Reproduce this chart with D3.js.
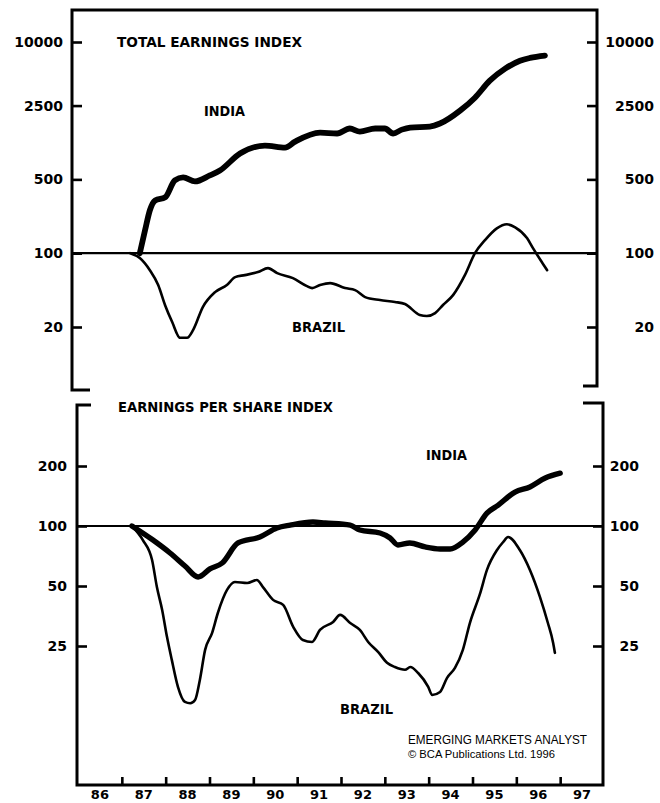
<!DOCTYPE html>
<html>
<head>
<meta charset="utf-8">
<script src="https://cdn.jsdelivr.net/npm/d3@7"></script>
<style>
  body { margin: 0; background: #fff; }
  svg { display: block; background: #fff; }
  .tick text { font-family: "DejaVu Sans", sans-serif; font-weight: bold; font-size: 14px; fill: #000; }
  .tick line { stroke: #000; stroke-width: 2.6; }
  .lbl { font-family: "DejaVu Sans", sans-serif; font-weight: bold; fill: #000; }
  .credit { font-family: "Liberation Sans", Arial, sans-serif; fill: #000; }
</style>
</head>
<body>
<svg id="chart" width="660" height="803"></svg>
<script>
// values: [year, index (start = 100)]
var totalIndia = [
  [1987.55, 100], [1987.67, 165], [1987.78, 255], [1987.90, 316], [1988.13, 338],
  [1988.35, 489], [1988.54, 522], [1988.81, 478], [1989.15, 545], [1989.38, 607],
  [1989.84, 879], [1990.41, 1046], [1990.87, 1001], [1991.10, 1140], [1991.67, 1387],
  [1992.06, 1360], [1992.35, 1516], [1992.58, 1417], [1992.93, 1516], [1993.15, 1516],
  [1993.34, 1360], [1993.54, 1480], [1993.73, 1549], [1994.18, 1583], [1994.41, 1690],
  [1994.87, 2240], [1995.21, 2970], [1995.55, 4300], [1995.90, 5590], [1996.24, 6650],
  [1996.47, 7070], [1996.81, 7440]
];
var totalBrazil = [
  [1987.33, 100], [1987.55, 90], [1987.78, 69], [1987.97, 50], [1988.13, 32],
  [1988.29, 22.3], [1988.47, 15.8], [1988.63, 15.8], [1988.77, 18.8], [1988.99, 30.9],
  [1989.27, 42.8], [1989.54, 50], [1989.73, 59.4], [1989.95, 62], [1990.25, 66.2],
  [1990.48, 72.2], [1990.69, 64.7], [1991.05, 58.1], [1991.37, 48.8], [1991.49, 46.7],
  [1991.67, 49.9], [1991.90, 52.1], [1992.24, 46.7], [1992.47, 44.7], [1992.70, 38.4],
  [1993.04, 36], [1993.38, 34.5], [1993.61, 33], [1993.95, 26], [1994.11, 25.4],
  [1994.30, 27.1], [1994.48, 32.3], [1994.71, 40.1], [1994.98, 62], [1995.21, 100],
  [1995.44, 133], [1995.71, 172], [1995.94, 188], [1996.13, 176], [1996.40, 139],
  [1996.54, 111], [1996.77, 78.7], [1996.86, 69]
];
var epsIndia = [
  [1987.23, 100], [1987.71, 85], [1988.10, 73.2], [1988.44, 63], [1988.74, 55.5],
  [1989.01, 60.9], [1989.29, 65.2], [1989.65, 82.2], [1990.15, 88.1], [1990.54, 97.7],
  [1990.84, 101], [1991.36, 104.7], [1991.64, 103.5], [1992.21, 101], [1992.43, 95.5],
  [1992.89, 92.2], [1993.12, 87.1], [1993.30, 80.3], [1993.57, 82.2], [1993.92, 78.5],
  [1994.26, 76.7], [1994.49, 76.7], [1994.78, 83.1], [1995.06, 95.5], [1995.33, 116],
  [1995.58, 127], [1995.97, 148], [1996.31, 157], [1996.66, 174], [1997.00, 184]
];
var epsBrazil = [
  [1987.23, 100], [1987.48, 85], [1987.69, 67.5], [1987.80, 49.4], [1987.92, 37.9],
  [1988.03, 27.8], [1988.14, 21.3], [1988.28, 15.6], [1988.44, 13.1], [1988.56, 12.9],
  [1988.67, 13.4], [1988.78, 16.9], [1988.90, 23.9], [1989.06, 29.1], [1989.19, 36.6],
  [1989.40, 47.8], [1989.58, 52.4], [1989.86, 51.8], [1990.08, 53.6], [1990.22, 49.4],
  [1990.45, 42.6], [1990.68, 40.2], [1990.91, 31.2], [1991.13, 26.8], [1991.34, 26.2],
  [1991.52, 30.1], [1991.82, 33.0], [1991.98, 35.8], [1992.21, 32.6], [1992.43, 30.1],
  [1992.62, 26.2], [1992.85, 23.3], [1993.05, 20.6], [1993.23, 19.6], [1993.46, 19.0],
  [1993.58, 19.6], [1993.76, 18.3], [1993.99, 15.6], [1994.08, 14.2], [1994.26, 14.7],
  [1994.42, 17.3], [1994.60, 19.4], [1994.78, 23.9], [1994.94, 32.6], [1995.17, 45.6],
  [1995.33, 60.2], [1995.56, 75.8], [1995.70, 83.1], [1995.81, 88.1], [1996.08, 75.8],
  [1996.31, 60.2], [1996.54, 44.0], [1996.72, 32.6], [1996.84, 25.9], [1996.88, 23.1]
];

var totalTicks = [10000, 2500, 500, 100, 20];
var epsTicks = [200, 100, 50, 25];
var yearTicks = [1987, 1988, 1989, 1990, 1991, 1992, 1993, 1994, 1995, 1996, 1997];
var yearLabels = ['86', '87', '88', '89', '90', '91', '92', '93', '94', '95', '96', '97'];

(function() {
  'use strict';

  var svg = d3.select('#chart');

  // the two panels sit a few pixels apart horizontally on the scan
  var xTot = d3.scaleLinear().domain([1986, 1998]).range([72, 597]);
  var yTot = d3.scaleLog().domain([10000, 20]).range([42, 327]);
  var xEps = d3.scaleLinear().domain([1986, 1998]).range([78, 604]);
  var yEps = d3.scaleLog().domain([200, 25]).range([466, 646]);

  function frame(d) {
    svg.append('path')
      .attr('d', d)
      .attr('fill', 'none')
      .attr('stroke', '#000')
      .attr('stroke-width', 3)
      .attr('stroke-linejoin', 'miter');
  }

  function yAxes(y, ticks, xl, xr, padL, labelR) {
    var gl = svg.append('g')
      .attr('transform', 'translate(' + xl + ',0)')
      .call(d3.axisLeft(y).tickValues(ticks).tickFormat(d3.format('d')).tickSize(-10).tickPadding(padL));
    gl.select('.domain').remove();

    var gr = svg.append('g')
      .attr('transform', 'translate(' + xr + ',0)')
      .call(d3.axisRight(y).tickValues(ticks).tickFormat(d3.format('d')).tickSize(-10));
    gr.select('.domain').remove();
    gr.selectAll('.tick text').attr('x', labelR - xr).attr('text-anchor', 'end');
  }

  function series(data, x, y, width) {
    var line = d3.line()
      .x(function(d) { return x(d[0]); })
      .y(function(d) { return y(d[1]); })
      .curve(d3.curveMonotoneX);
    svg.append('path')
      .datum(data)
      .attr('d', line)
      .attr('fill', 'none')
      .attr('stroke', '#000')
      .attr('stroke-width', width)
      .attr('stroke-linejoin', 'round')
      .attr('stroke-linecap', 'round');
  }

  function baseLine(x, y, x1, x2) {
    svg.append('line')
      .attr('x1', x1).attr('x2', x2)
      .attr('y1', y(100)).attr('y2', y(100))
      .attr('stroke', '#000')
      .attr('stroke-width', 2.2);
  }

  function label(txt, x, y, size, len, cls) {
    svg.append('text')
      .attr('class', cls || 'lbl')
      .attr('x', x).attr('y', y)
      .attr('font-size', size)
      .attr('textLength', len)
      .attr('lengthAdjust', 'spacingAndGlyphs')
      .text(txt);
  }

  // ---- top panel: total earnings
  frame('M90,390H72V10H597V386H583');
  yAxes(yTot, totalTicks, 72, 597, 9, 654);
  baseLine(xTot, yTot, 72, 597);
  series(totalBrazil, xTot, yTot, 2.6);
  series(totalIndia, xTot, yTot, 5.8);

  label('TOTAL EARNINGS INDEX', 117, 46.5, 13.7, 185);
  label('INDIA', 204, 116, 14.5, 41);
  label('BRAZIL', 292, 332, 14.5, 53);

  // ---- bottom panel: earnings per share
  frame('M91,405H77V785H603V403H583');
  yAxes(yEps, epsTicks, 77, 603, 10, 639);
  baseLine(xEps, yEps, 77, 603);
  series(epsBrazil, xEps, yEps, 2.6);
  series(epsIndia, xEps, yEps, 5.4);

  var gx = svg.append('g')
    .attr('transform', 'translate(0,785)')
    .call(d3.axisBottom(xEps).tickValues(yearTicks).tickSize(-8).tickFormat(''));
  gx.select('.domain').remove();

  svg.append('g').selectAll('text')
    .data(yearLabels)
    .enter()
    .append('text')
      .attr('class', 'lbl')
      .attr('font-size', 13)
      .attr('text-anchor', 'middle')
      .attr('x', function(d, i) { return xEps(1986.5 + i); })
      .attr('y', 798.5)
      .text(function(d) { return d; });

  label('EARNINGS PER SHARE INDEX', 118, 411.5, 13.7, 215);
  label('INDIA', 426, 460, 14.5, 41);
  label('BRAZIL', 340, 714, 14.5, 53);

  label('EMERGING MARKETS ANALYST', 408, 744, 12, 179, 'credit');
  label('\u00A9 BCA Publications Ltd. 1996', 408, 757.5, 11.5, 147, 'credit');
}());
</script>
</body>
</html>
